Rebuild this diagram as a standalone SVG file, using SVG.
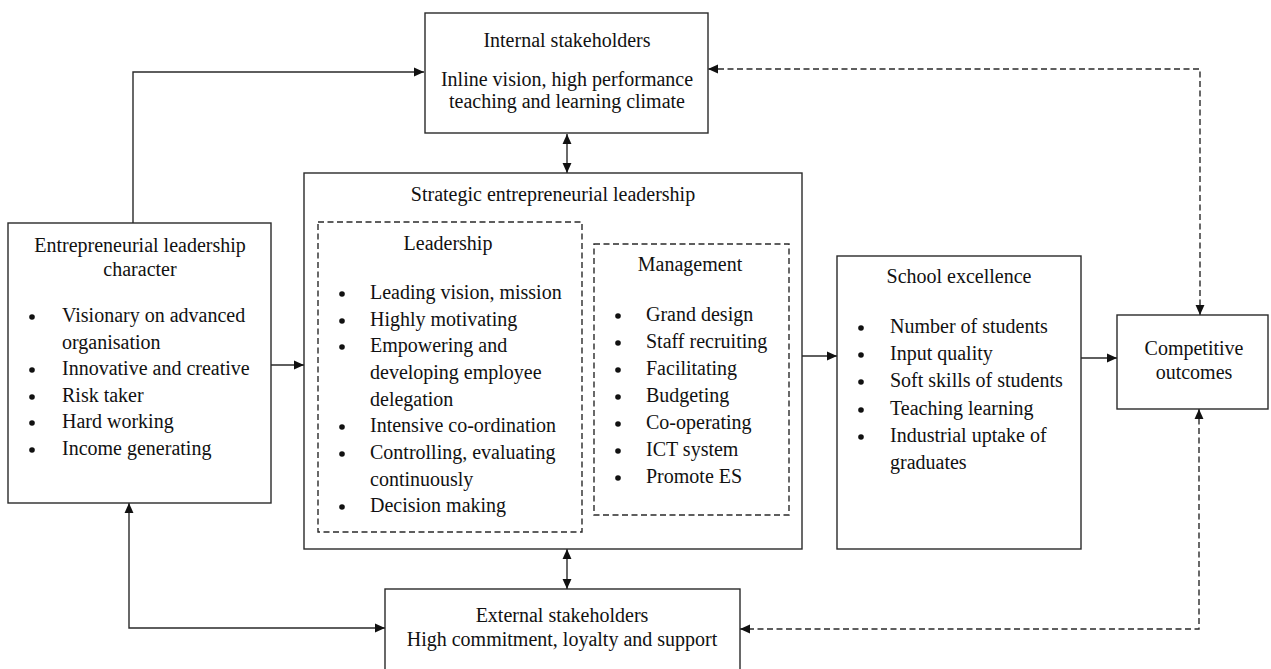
<svg xmlns="http://www.w3.org/2000/svg" width="1271" height="669" viewBox="0 0 1271 669">
<style>
.box{fill:#fff;stroke:#2a2a2a;stroke-width:1.4}
.dbox{fill:none;stroke:#2a2a2a;stroke-width:1.4;stroke-dasharray:6 3.5}
.t{font-family:"Liberation Serif","Times New Roman",serif;font-size:20px;fill:#111}
.c{text-anchor:middle}
.b{fill:#111}
.ln{fill:none;stroke:#2a2a2a;stroke-width:1.4}
.dl{fill:none;stroke:#2a2a2a;stroke-width:1.4;stroke-dasharray:6 3.5}
</style>
<defs>
<marker id="ah" markerUnits="userSpaceOnUse" markerWidth="10" markerHeight="10" viewBox="0 0 9 8" refX="9" refY="4" orient="auto-start-reverse">
<path d="M0,0 L9,4 L0,8 z" fill="#111"/>
</marker>
</defs>
<rect width="1271" height="669" fill="#fff"/>

<g id="connectors">
<path class="ln" d="M133,223 V72 H424" marker-end="url(#ah)"/>
<path class="ln" d="M567,134 V173" marker-start="url(#ah)" marker-end="url(#ah)"/>
<path class="ln" d="M271,365 H304" marker-end="url(#ah)"/>
<path class="ln" d="M802,356 H837" marker-end="url(#ah)"/>
<path class="ln" d="M1081,358 H1117" marker-end="url(#ah)"/>
<path class="ln" d="M567,549 V589" marker-start="url(#ah)" marker-end="url(#ah)"/>
<path class="ln" d="M129,503 V628 H385" marker-start="url(#ah)" marker-end="url(#ah)"/>
<path class="dl" d="M1200,315 V69 H708" marker-start="url(#ah)" marker-end="url(#ah)"/>
<path class="dl" d="M1199,409 V629 H740" marker-start="url(#ah)" marker-end="url(#ah)"/>
</g>

<g id="internal-stakeholders">
<rect class="box" x="425" y="13" width="283" height="120"/>
<text class="t c" x="567" y="47">Internal stakeholders</text>
<text class="t c" x="567" y="86">Inline vision, high performance</text>
<text class="t c" x="567" y="108">teaching and learning climate</text>
</g>

<g id="entrepreneurial-character">
<rect class="box" x="8" y="223" width="263" height="280"/>
<text class="t c" x="140" y="252">Entrepreneurial leadership</text>
<text class="t c" x="140" y="276">character</text>
<g class="b">
<circle cx="32" cy="317" r="2.8"/>
<circle cx="32" cy="370" r="2.8"/>
<circle cx="32" cy="397" r="2.8"/>
<circle cx="32" cy="423" r="2.8"/>
<circle cx="32" cy="450" r="2.8"/>
</g>
<text class="t" x="62" y="322">Visionary on advanced</text>
<text class="t" x="62" y="348.5">organisation</text>
<text class="t" x="62" y="375">Innovative and creative</text>
<text class="t" x="62" y="401.5">Risk taker</text>
<text class="t" x="62" y="428">Hard working</text>
<text class="t" x="62" y="455">Income generating</text>
</g>

<g id="strategic-leadership">
<rect class="box" x="304" y="173" width="498" height="376"/>
<text class="t c" x="553" y="201">Strategic entrepreneurial leadership</text>
</g>

<g id="leadership">
<rect class="dbox" x="318" y="222" width="264" height="310"/>
<text class="t c" x="448" y="250">Leadership</text>
<g class="b">
<circle cx="342" cy="294" r="2.8"/>
<circle cx="342" cy="321" r="2.8"/>
<circle cx="342" cy="347" r="2.8"/>
<circle cx="342" cy="427" r="2.8"/>
<circle cx="342" cy="454" r="2.8"/>
<circle cx="342" cy="507" r="2.8"/>
</g>
<text class="t" x="370" y="299">Leading vision, mission</text>
<text class="t" x="370" y="325.7">Highly motivating</text>
<text class="t" x="370" y="352.3">Empowering and</text>
<text class="t" x="370" y="379">developing employee</text>
<text class="t" x="370" y="405.7">delegation</text>
<text class="t" x="370" y="432.3">Intensive co-ordination</text>
<text class="t" x="370" y="459">Controlling, evaluating</text>
<text class="t" x="370" y="485.7">continuously</text>
<text class="t" x="370" y="512.3">Decision making</text>
</g>

<g id="management">
<rect class="dbox" x="594" y="244" width="195" height="271"/>
<text class="t c" x="690" y="271">Management</text>
<g class="b">
<circle cx="618" cy="316" r="2.8"/>
<circle cx="618" cy="343" r="2.8"/>
<circle cx="618" cy="370" r="2.8"/>
<circle cx="618" cy="397" r="2.8"/>
<circle cx="618" cy="424" r="2.8"/>
<circle cx="618" cy="451" r="2.8"/>
<circle cx="618" cy="478" r="2.8"/>
</g>
<text class="t" x="646" y="321">Grand design</text>
<text class="t" x="646" y="348">Staff recruiting</text>
<text class="t" x="646" y="375">Facilitating</text>
<text class="t" x="646" y="402">Budgeting</text>
<text class="t" x="646" y="429">Co-operating</text>
<text class="t" x="646" y="456">ICT system</text>
<text class="t" x="646" y="483">Promote ES</text>
</g>

<g id="school-excellence">
<rect class="box" x="837" y="256" width="244" height="293"/>
<text class="t c" x="959" y="283">School excellence</text>
<g class="b">
<circle cx="861" cy="328" r="2.8"/>
<circle cx="861" cy="355" r="2.8"/>
<circle cx="861" cy="382" r="2.8"/>
<circle cx="861" cy="410" r="2.8"/>
<circle cx="861" cy="437" r="2.8"/>
</g>
<text class="t" x="890" y="333">Number of students</text>
<text class="t" x="890" y="360">Input quality</text>
<text class="t" x="890" y="387">Soft skills of students</text>
<text class="t" x="890" y="415">Teaching learning</text>
<text class="t" x="890" y="442">Industrial uptake of</text>
<text class="t" x="890" y="469">graduates</text>
</g>

<g id="competitive-outcomes">
<rect class="box" x="1117" y="315" width="151" height="94"/>
<text class="t c" x="1194" y="355">Competitive</text>
<text class="t c" x="1194" y="379">outcomes</text>
</g>

<g id="external-stakeholders">
<rect class="box" x="385" y="589" width="355" height="100"/>
<text class="t c" x="562" y="622">External stakeholders</text>
<text class="t c" x="562" y="646">High commitment, loyalty and support</text>
</g>
</svg>
